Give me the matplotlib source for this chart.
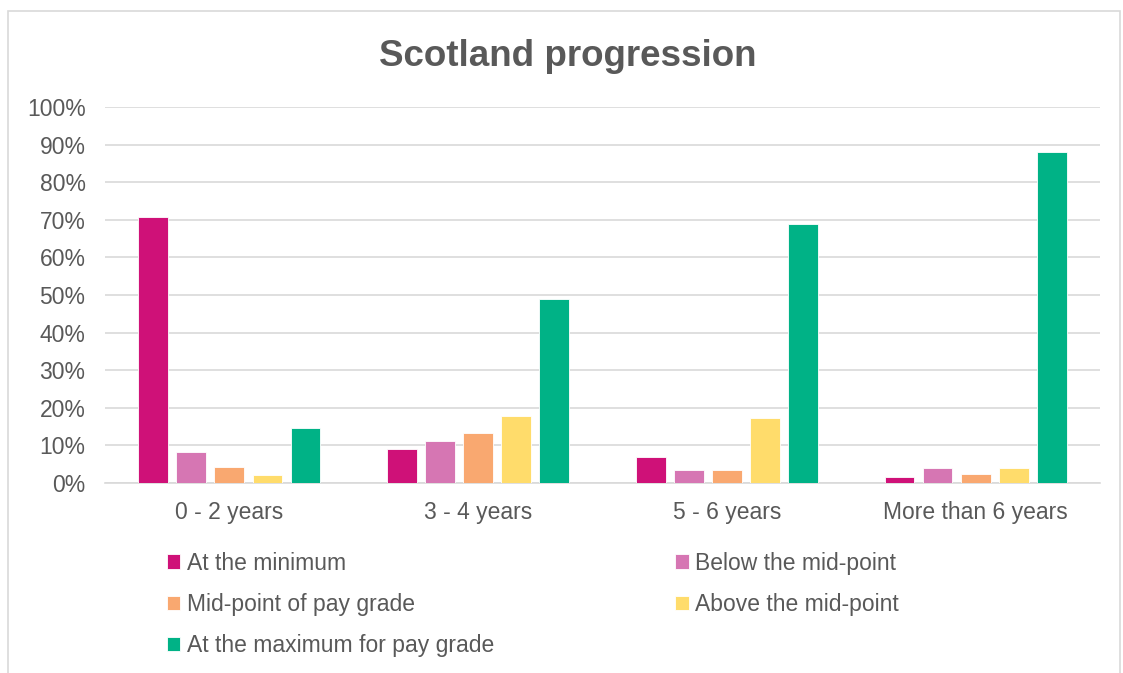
import numpy as np
import matplotlib.pyplot as plt
from matplotlib.patches import Rectangle

plt.rcParams['font.family'] = ['Liberation Sans', 'DejaVu Sans']

groups = ['0 - 2 years', '3 - 4 years', '5 - 6 years', 'More than 6 years']
series = ['At the minimum', 'Below the mid-point', 'Mid-point of pay grade',
          'Above the mid-point', 'At the maximum for pay grade']
at_min = [70.8, 9.0, 6.9, 1.6]
below_mid = [8.3, 11.2, 3.5, 4.0]
mid_point = [4.2, 13.4, 3.5, 2.5]
above_mid = [2.1, 17.8, 17.3, 4.0]
at_max = [14.5, 48.9, 68.9, 88.1]
colors = ['#CF1178', '#D676B3', '#F9A870', '#FFDC6B', '#00B286']

values = [at_min, below_mid, mid_point, above_mid, at_max]
grey = '#595959'

fig = plt.figure(figsize=(11.23, 6.73), dpi=100)
fig.patches.append(Rectangle((8 / 1123, -0.01), 1112 / 1123, 1 - 11 / 673 + 0.01,
                             transform=fig.transFigure, fill=False,
                             edgecolor='#d9d9d9', linewidth=1.2))
ax = fig.add_axes([105 / 1123, 1 - 483 / 673, 995 / 1123, 376 / 673])

x = np.arange(len(groups))
w = 0.12
pitch = 0.153
bars = []
for i, (vals, c) in enumerate(zip(values, colors)):
    b = ax.bar(x + (i - 2) * pitch, np.array(vals) / 100, w, color=c,
               edgecolor='white', linewidth=0.6, zorder=3, label=series[i])
    bars.append(b)

ax.set_ylim(0, 1)
ax.set_xlim(-0.5, 3.5)
ax.set_yticks(np.arange(0, 1.01, 0.1))
ax.set_yticklabels([f'{int(round(v * 100))}%' for v in np.arange(0, 1.01, 0.1)])
ax.set_xticks(x)
ax.set_xticklabels(groups)
ax.grid(axis='y', color='#d9d9d9', linewidth=1.2, zorder=0)
for s in ['top', 'right', 'left']:
    ax.spines[s].set_visible(False)
ax.spines['bottom'].set_color('#d9d9d9')
ax.spines['bottom'].set_linewidth(1.2)
ax.tick_params(axis='both', length=0, labelsize=16.5, colors=grey)
ax.tick_params(axis='x', pad=13)
ax.tick_params(axis='y', pad=14)

fig.text(0.506, 1 - 57 / 673, 'Scotland progression', ha='center', va='center',
         fontsize=26.5, fontweight='bold', color=grey)

order = [0, 2, 4, 1, 3]
fig.legend([bars[i] for i in order], [series[i] for i in order], ncol=2,
           loc='upper left', bbox_to_anchor=(146 / 1123, 1 - 531 / 673),
           frameon=False, fontsize=16.5, labelcolor=grey,
           handlelength=0.6, handleheight=0.6, handletextpad=0.28,
           labelspacing=0.8, columnspacing=7.9)

fig.savefig('out.png', dpi=100)
